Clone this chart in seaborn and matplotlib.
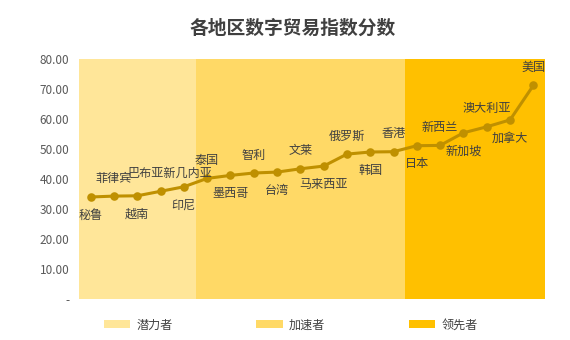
import matplotlib
matplotlib.use("Agg")
import matplotlib.pyplot as plt
import seaborn as sns
import pandas as pd
from matplotlib.patches import Patch

countries = ["秘鲁", "菲律宾", "越南", "巴布亚新几内亚", "印尼",
             "泰国", "墨西哥", "智利", "台湾", "文莱", "马来西亚", "俄罗斯", "韩国", "香港",
             "日本", "新西兰", "新加坡", "澳大利亚", "加拿大", "美国"]
scores = [34.0, 34.3, 34.4, 35.9, 37.4,
          40.2, 41.2, 42.0, 42.3, 43.4, 44.3, 48.3, 49.0, 49.1,
          51.1, 51.2, 55.4, 57.4, 59.7, 71.2]
groups = ["潜力者"] * 5 + ["加速者"] * 9 + ["领先者"] * 6
group_names = ["潜力者", "加速者", "领先者"]
band_top = [80] * 20
yticks = [0, 10, 20, 30, 40, 50, 60, 70, 80]
ytick_labels = ["-", "10.00", "20.00", "30.00", "40.00", "50.00", "60.00", "70.00", "80.00"]

band_colors = {"潜力者": "#FFE699", "加速者": "#FFD966", "领先者": "#FFC000"}
line_color = "#BF9000"
text_color = "#404040"

sns.set_theme(style="white")
plt.rcParams["font.family"] = ["Noto Sans CJK SC", "DejaVu Sans"]

df = pd.DataFrame({"country": countries, "score": scores, "group": groups, "top": band_top})

fig = plt.figure(figsize=(5.7, 3.4), dpi=100)
ax = fig.add_axes([79 / 570, 1 - 299 / 340, 466 / 570, 240 / 340])

sns.barplot(data=df, x="country", y="top", hue="group", hue_order=group_names,
            palette=band_colors, dodge=False, width=1.0, ax=ax, legend=False,
            linewidth=0, saturation=1)
sns.pointplot(data=df, x="country", y="score", color=line_color, ax=ax,
              markers="o", markersize=4.5, linewidth=2.2)

# labels alternate below / above the points
label_dx = {"巴布亚新几内亚": 0.38}
for i, (c, v) in enumerate(zip(countries, scores)):
    off = 6.0 if i % 2 == 1 else -6.0
    ax.text(i + label_dx.get(c, 0.0), v + off, c, ha="center", va="center",
            fontsize=8.7, color=text_color)

ax.set_ylim(0, 80)
ax.set_xlim(-0.5, len(countries) - 0.5)
ax.set_yticks(yticks)
ax.set_yticklabels(ytick_labels, fontsize=8.5, color="#595959")
ax.set_xticks([])
ax.set_xlabel("")
ax.set_ylabel("")
ax.tick_params(axis="y", length=0, pad=7)
for s in ax.spines.values():
    s.set_visible(False)

fig.text(0.514, 1 - 28 / 340, "各地区数字贸易指数分数", ha="center", va="center",
         fontsize=13.5, fontweight="bold", color=text_color)

handles = [Patch(facecolor=band_colors[g], edgecolor="none", label=g) for g in group_names]
fig.legend(handles=handles, loc="center", bbox_to_anchor=(0.51, 1 - 325 / 340), ncol=3,
           frameon=False, fontsize=8.7, handlelength=2.2, handleheight=0.6,
           columnspacing=6.9, handletextpad=0.5, labelcolor=text_color)

fig.savefig("out.png", dpi=100, facecolor="white")
